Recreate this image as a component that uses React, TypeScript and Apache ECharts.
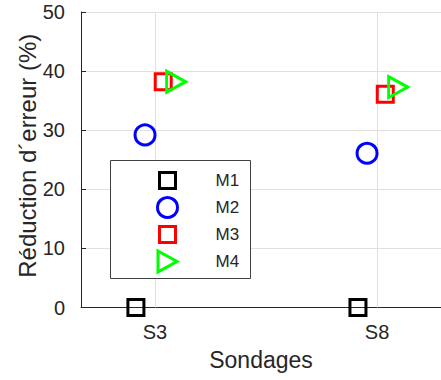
import React, { useEffect, useRef } from "react";
import * as echarts from "echarts";

const categories = ["S3", "S8"];
const categoryPos = [1, 2];
const methods = ["M1", "M2", "M3", "M4"];
const m1Values = [0, 0];
const m2Values = [29.2, 26.1];
const m3Values = [38.2, 36.1];
const m4Values = [38.2, 37.3];
const methodOffsets = [-0.086, -0.045, 0.037, 0.095];
const yTicks = [0, 10, 20, 30, 40, 50];

const TEXT = "#262626";
const GRID = "#e0e0e0";
const FONT = "Liberation Sans, Arial, Helvetica, sans-serif";
const TRI = "path://M0,0L20,11L0,22Z";

const seriesValues = [m1Values, m2Values, m3Values, m4Values];
const colors = ["#000000", "#0000ff", "#ff0000", "#00ff00"];
const symbols = ["rect", "circle", "rect", TRI];
const sizes: any[] = [16, 20, 16, [19, 21]];

export default function App() {
  const ref = useRef<HTMLDivElement>(null);
  useEffect(() => {
    if (!ref.current) return;
    const chart = echarts.init(ref.current, null, { renderer: "svg" });
    const series: any[] = methods.map((name, i) => ({
      name,
      type: "scatter",
      symbol: symbols[i],
      symbolSize: sizes[i],
      z: 5,
      itemStyle: {
        color: "rgba(0,0,0,0)",
        borderColor: colors[i],
        borderWidth: 3,
        opacity: 1,
      },
      data: categoryPos.map((p, j) => [p + methodOffsets[i], seriesValues[i][j]]),
    }));
    series.push({
      name: "_grid",
      type: "scatter",
      data: [],
      z: 1,
      silent: true,
      markLine: {
        silent: true,
        symbol: "none",
        label: { show: false },
        lineStyle: { color: GRID, type: "solid", width: 1 },
        data: categoryPos.map((p) => ({ xAxis: p })),
      },
    });
    const legendCenters = [179, 206, 233, 260];
    const legendSizes = [
      [16, 16],
      [20, 20],
      [16, 16],
      [19, 21],
    ];
    const iconCx = 166;
    const textX = 214;
    const legends = methods.map((name, i) => {
      const [w, h] = legendSizes[i];
      const left = iconCx - w / 2;
      return {
        data: [name],
        left,
        top: legendCenters[i] - h / 2,
        itemWidth: w,
        itemHeight: h,
        padding: 0,
        selectedMode: false,
        z: 10,
        itemStyle: { borderWidth: 3, color: "rgba(0,0,0,0)", borderColor: colors[i] },
        textStyle: {
          color: TEXT,
          fontFamily: FONT,
          fontSize: 17,
          padding: [0, 0, 0, textX - (left + w + 5)],
        },
      };
    });
    chart.setOption({
      animation: false,
      backgroundColor: "#ffffff",
      grid: { left: 81, top: 12, right: 0, bottom: 72.5, containLabel: false },
      xAxis: {
        type: "value",
        min: 2 / 3,
        max: 2.288,
        name: "Sondages",
        nameLocation: "middle",
        nameGap: 41,
        nameMoveOverlap: false,
        nameTextStyle: { color: TEXT, fontFamily: FONT, fontSize: 23 },
        axisLine: { show: true, onZero: false, lineStyle: { color: TEXT, width: 1 } },
        axisTick: { show: true, inside: true, length: 5, customValues: categoryPos, lineStyle: { color: TEXT } },
        axisLabel: {
          customValues: categoryPos,
          color: TEXT,
          fontFamily: FONT,
          fontSize: 20,
          margin: 14,
          formatter: (v: number) => {
            const k = categoryPos.findIndex((p) => Math.abs(p - v) < 1e-6);
            return k >= 0 ? categories[k] : "";
          },
        },
        splitLine: { show: false },
      },
      yAxis: {
        type: "value",
        min: yTicks[0],
        max: yTicks[yTicks.length - 1],
        interval: 10,
        name: "Réduction d´erreur (%)",
        nameLocation: "middle",
        nameGap: 42,
        nameMoveOverlap: false,
        nameTextStyle: { color: TEXT, fontFamily: FONT, fontSize: 24, padding: [0, 0, 0, 8] },
        axisLine: { show: true, lineStyle: { color: TEXT, width: 1 } },
        axisTick: { show: true, inside: true, length: 5, lineStyle: { color: TEXT } },
        axisLabel: { color: TEXT, fontFamily: FONT, fontSize: 20, margin: 16 },
        splitLine: { show: true, lineStyle: { color: GRID, width: 1 } },
      },
      legend: legends,
      graphic: [
        {
          type: "rect",
          left: 110,
          top: 160,
          z: 8,
          shape: { width: 140, height: 118 },
          style: { fill: "#ffffff", stroke: "#404040", lineWidth: 1 },
        },
      ],
      series,
    });
    return () => chart.dispose();
  }, []);
  return (
    <div
      ref={ref}
      style={{ position: "fixed", left: 0, top: 0, width: 441, height: 380, background: "#fff" }}
    />
  );
}
